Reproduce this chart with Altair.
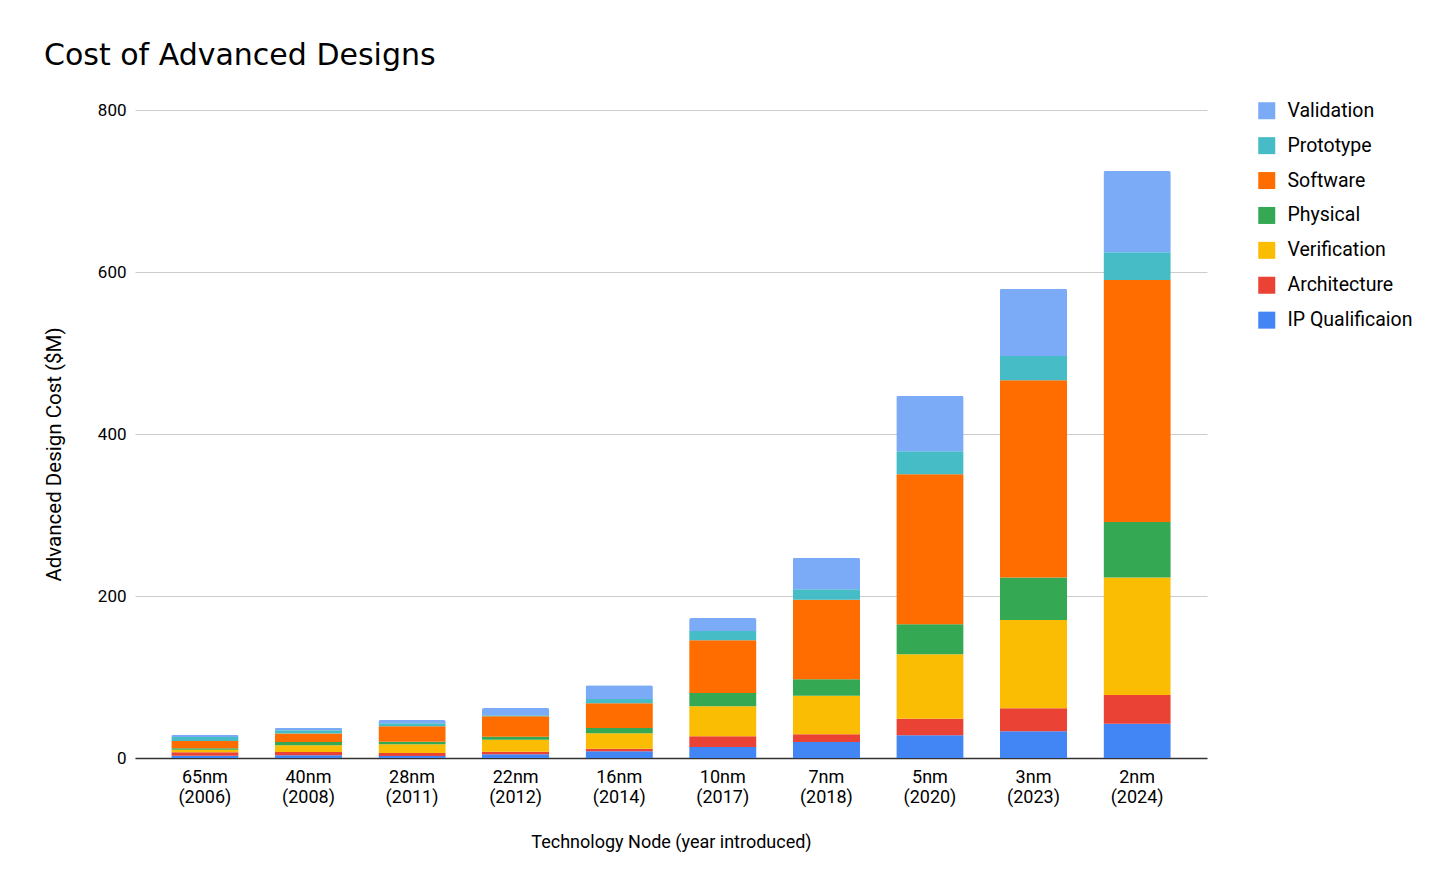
import altair as alt
import pandas as pd

nodes = ["65nm\n(2006)", "40nm\n(2008)", "28nm\n(2011)", "22nm\n(2012)", "16nm\n(2014)",
         "10nm\n(2017)", "7nm\n(2018)", "5nm\n(2020)", "3nm\n(2023)", "2nm\n(2024)"]

ip_qual      = [2.9, 3.3, 2.5, 4.5, 8.2, 13.6, 19.8, 28.0, 33.1, 42.3]
architecture = [4.1, 4.0, 3.7, 3.3, 3.3, 13.1, 9.4, 20.5, 28.4, 35.6]
verification = [3.3, 8.5, 10.7, 14.8, 19.0, 37.1, 47.8, 79.7, 109.0, 144.9]
physical     = [1.6, 4.0, 3.3, 3.7, 6.5, 16.4, 20.1, 37.0, 52.3, 68.7]
software     = [9.1, 10.5, 18.9, 25.1, 30.5, 65.1, 98.4, 185.0, 243.5, 298.7]
prototype    = [4.9, 4.0, 3.7, 1.3, 5.3, 11.5, 12.7, 28.4, 29.9, 34.3]
validation   = [2.9, 3.0, 4.1, 9.0, 16.9, 16.0, 39.1, 68.7, 83.1, 100.1]

series_names = ["IP Qualificaion", "Architecture", "Verification", "Physical",
                "Software", "Prototype", "Validation"]
series_vals = [ip_qual, architecture, verification, physical, software, prototype, validation]
series_colors = ["#4285F4", "#EA4335", "#FBBC04", "#34A853", "#FF6D01", "#46BDC6", "#7BAAF7"]

rows = []
for si, (name, vals) in enumerate(zip(series_names, series_vals)):
    for ni, (node, v) in enumerate(zip(nodes, vals)):
        rows.append({"node": node, "series": name, "value": v, "order": si})
df = pd.DataFrame(rows)

legend_order = list(reversed(series_names))
legend_colors = list(reversed(series_colors))

chart = alt.Chart(df).mark_bar(cornerRadiusEnd=2).encode(
    x=alt.X("node:N", sort=nodes,
            scale=alt.Scale(paddingInner=0.35, paddingOuter=0.35),
            axis=alt.Axis(title="Technology Node (year introduced)",
                          labelAngle=0,
                          labelExpr="split(datum.label, '\\n')",
                          labelFont="Roboto", labelFontSize=18, labelLineHeight=20,
                          labelColor="#000", labelPadding=10,
                          ticks=False, domainColor="#333", domainWidth=1.5,
                          titleFont="Roboto", titleFontSize=18, titleFontWeight="normal",
                          titleColor="#000", titleY=84, titleBaseline="middle")),
    y=alt.Y("value:Q", stack="zero",
            scale=alt.Scale(domain=[0, 800]),
            axis=alt.Axis(title="Advanced Design Cost ($M)", values=[0, 200, 400, 600, 800],
                          labelFont="Roboto", labelFontSize=17, labelColor="#000",
                          labelPadding=9, ticks=False, domain=False,
                          gridColor="#cccccc", gridWidth=1,
                          titleFont="Roboto", titleFontSize=20.5, titleFontWeight="normal",
                          titleColor="#000", titleAngle=-90, titleX=-81, titleY=344,
                          titleAlign="center", titleBaseline="middle")),
    color=alt.Color("series:N",
                    scale=alt.Scale(domain=legend_order, range=legend_colors),
                    legend=alt.Legend(title=None, orient="none", legendX=1122, legendY=-9,
                                      symbolType="square", symbolSize=289,
                                      symbolStrokeWidth=0, symbolOpacity=1,
                                      labelFont="Roboto", labelFontSize=19.5,
                                      labelColor="#000", labelOffset=11,
                                      rowPadding=13.9, padding=0)),
    order=alt.Order("order:Q", sort="ascending"),
).properties(
    width=1072,
    height=648,
    title=alt.TitleParams("Cost of Advanced Designs", anchor="start", frame="group",
                          dx=-91, offset=30, font="DejaVu Sans", fontSize=30,
                          fontWeight="normal", color="#000"),
    autosize=alt.AutoSizeParams(type="none"),
    padding={"left": 127, "top": 102, "right": 241, "bottom": 129},
).configure_view(stroke=None)

chart.save("out.html", embed_options={"renderer": "svg", "actions": False})
